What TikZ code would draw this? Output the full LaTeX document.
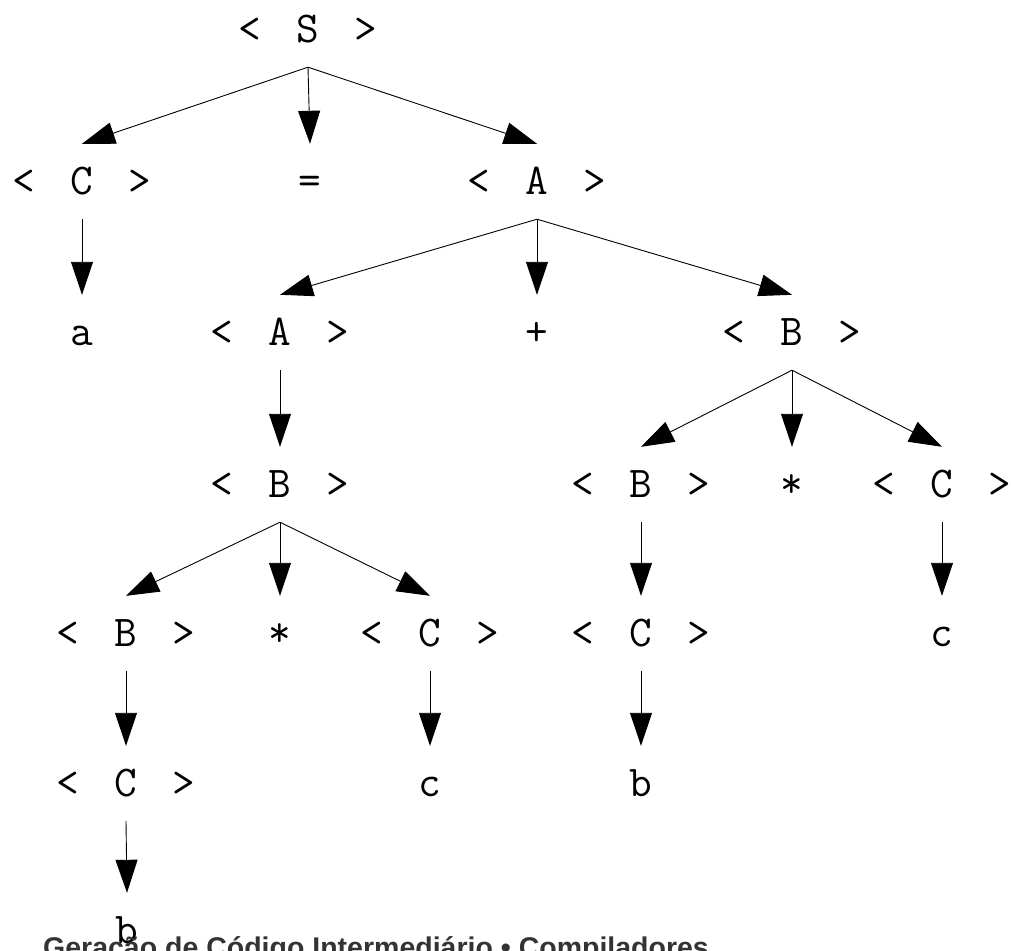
\documentclass[tikz,border=0pt]{standalone}
\usepackage{fontspec}
\newfontfamily\footfont{Liberation Sans}
\usetikzlibrary{arrows.meta}
\newcommand\tcell[1]{\makebox[29pt]{#1}}
\newcommand\ntm[1]{\tcell{<}\tcell{}\tcell{#1}\tcell{}\tcell{>}}
\begin{document}
\begin{tikzpicture}[x=1pt,y=-1pt,
  tn/.style={anchor=base, font=\ttfamily\fontsize{44}{50}\selectfont,
    text height=25pt, text depth=0pt, inner xsep=0pt, inner ysep=25pt},
  edge/.style={-{Triangle[width=22pt,length=33pt]}, line width=0.9pt}]
\clip (0,0) rectangle (1011,950);
% row 1
\node[tn] (S) at (308,42) {\ntm{S}};
% row 2
\node[tn] (C1) at (82,194) {\ntm{C}};
\node[tn] (eq) at (310,194) {=};
\node[tn] (A1) at (537,194) {\ntm{A}};
% row 3
\node[tn] (a) at (82,345) {a};
\node[tn] (A2) at (280,345) {\ntm{A}};
\node[tn] (plus) at (537,345) {+};
\node[tn] (B1) at (792,345) {\ntm{B}};
% row 4
\node[tn] (B2) at (280,497) {\ntm{B}};
\node[tn] (B3) at (641,497) {\ntm{B}};
\node[tn] (star1) at (792,497) {*};
\node[tn] (C2) at (942,497) {\ntm{C}};
% row 5
\node[tn] (B4) at (126,646) {\ntm{B}};
\node[tn] (star2) at (280,646) {*};
\node[tn] (C3) at (430,646) {\ntm{C}};
\node[tn] (C4) at (641,646) {\ntm{C}};
\node[tn] (c1) at (942,646) {c};
% row 6
\node[tn] (C5) at (126,796) {\ntm{C}};
\node[tn] (c2) at (430,796) {c};
\node[tn] (b1) at (641,796) {b};
% row 7
\node[tn] (b2) at (127,943) {b};
% edges
\draw[edge] (S.south) -- (C1.north);
\draw[edge] (S.south) -- (eq.north);
\draw[edge] (S.south) -- (A1.north);
\draw[edge] (C1.south) -- (a.north);
\draw[edge] (A1.south) -- (A2.north);
\draw[edge] (A1.south) -- (plus.north);
\draw[edge] (A1.south) -- (B1.north);
\draw[edge] (A2.south) -- (B2.north);
\draw[edge] (B1.south) -- (B3.north);
\draw[edge] (B1.south) -- (star1.north);
\draw[edge] (B1.south) -- (C2.north);
\draw[edge] (B2.south) -- (B4.north);
\draw[edge] (B2.south) -- (star2.north);
\draw[edge] (B2.south) -- (C3.north);
\draw[edge] (B3.south) -- (C4.north);
\draw[edge] (C2.south) -- (c1.north);
\draw[edge] (B4.south) -- (C5.north);
\draw[edge] (C3.south) -- (c2.north);
\draw[edge] (C4.south) -- (b1.north);
\draw[edge] (C5.south) -- (b2.north);
% footer
\node[anchor=base west, inner sep=0pt, text=black!80,
  font=\footfont\bfseries\fontsize{28.5}{32}\selectfont] (foot) at (43,957)
  {Geração de Código Intermediário • Compiladores};
\end{tikzpicture}
\end{document}
